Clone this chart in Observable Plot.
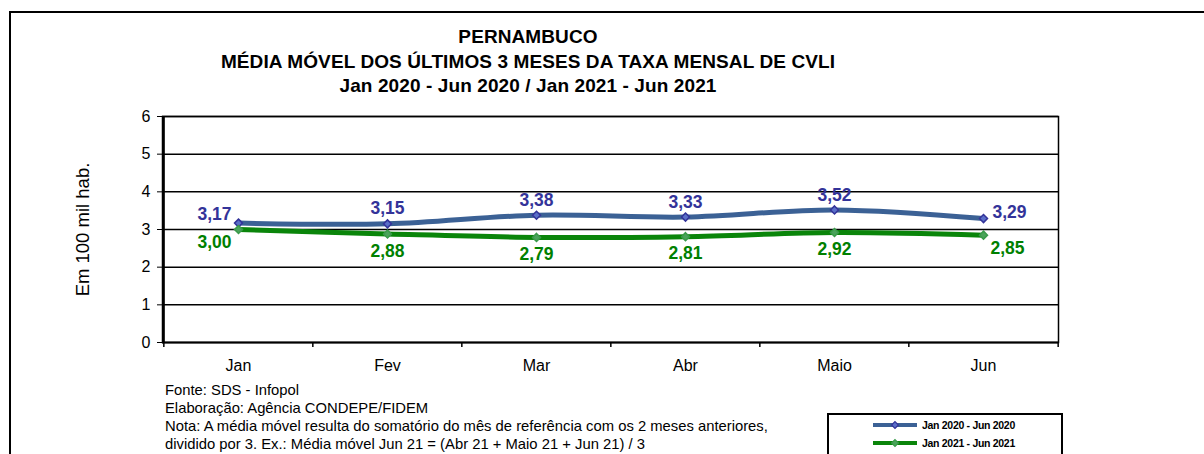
<!DOCTYPE html>
<html><head><meta charset="utf-8">
<script src="https://cdn.jsdelivr.net/npm/d3@7"></script>
<script src="https://cdn.jsdelivr.net/npm/@observablehq/plot@0.6"></script>
<style>
body{margin:0;background:#fff;font-family:"Liberation Sans",Arial,sans-serif;}
#wrap{position:relative;width:1204px;height:454px;overflow:hidden;background:#fff;}
#border{position:absolute;left:9px;top:11px;width:1300px;height:600px;border:2px solid #000;}
#title{position:absolute;left:0;top:25px;width:1056px;text-align:center;font-weight:bold;font-size:19px;line-height:24.5px;letter-spacing:0.1px;}
#chart{position:absolute;left:0;top:100px;}
#notes{position:absolute;left:165px;top:381px;font-size:14.8px;line-height:18px;color:#000;}
#legend{position:absolute;left:827px;top:413px;width:232px;height:60px;border:2px solid #000;background:#fff;}
</style></head><body>
<div id="wrap">
  <div id="border"></div>
  <div id="title"></div>
  <div id="chart"></div>
  <div id="notes"></div>
  <div id="legend"></div>
</div>
<script>
const titleLines = ["PERNAMBUCO", "MÉDIA MÓVEL DOS ÚLTIMOS 3 MESES DA TAXA MENSAL DE CVLI", "Jan 2020 - Jun 2020 / Jan 2021 - Jun 2021"];
const months = ["Jan", "Fev", "Mar", "Abr", "Maio", "Jun"];
const serie2020 = [3.17, 3.15, 3.38, 3.33, 3.52, 3.29];
const serie2021 = [3.00, 2.88, 2.79, 2.81, 2.92, 2.85];
const seriesNames = ["Jan 2020 -  Jun 2020", "Jan 2021 -  Jun 2021"];
const yTicks = [0, 1, 2, 3, 4, 5, 6];
const yLabel = "Em 100 mil hab.";
const notes = [
  "Fonte: SDS - Infopol",
  "Elaboração: Agência CONDEPE/FIDEM",
  "Nota: A média móvel resulta do somatório do mês de referência com os 2 meses anteriores,",
  "dividido por 3. Ex.: Média móvel Jun 21 = (Abr 21 + Maio 21 + Jun 21) / 3"
];

const lineColors = ["#3b6195", "#0a850a"];
const markerFill = ["#5a6fc8", "#4aa35a"];
const markerStroke = ["#333399", "#3a9a4a"];
const labelColors = ["#333399", "#008000"];

document.getElementById("title").innerHTML = titleLines.map(t => `<div>${t}</div>`).join("");
document.getElementById("notes").innerHTML = notes.map(t => `<div>${t}</div>`).join("");

const fmt = v => v.toFixed(2).replace(".", ",");
const series = [serie2020, serie2021];
const rows = series.flatMap((vals, s) => vals.map((v, i) => ({month: months[i], i, s, serie: seriesNames[s], value: v})));

const W = 1204, H = 280, mL = 162, mR = 146, mT = 16, mB = 38;
const step = (W - mL - mR) / months.length;

function labels(s, first, mid, last) {
  const d = rows.filter(r => r.s === s);
  const n = months.length - 1;
  const base = {x: "month", y: "value", text: r => fmt(r.value), fill: labelColors[s], fontWeight: "bold", fontSize: 17.5};
  return [
    Plot.text(d.filter(r => r.i === 0), {...base, dx: first[0], dy: first[1]}),
    Plot.text(d.filter(r => r.i > 0 && r.i < n), {...base, dx: mid[0], dy: mid[1]}),
    Plot.text(d.filter(r => r.i === n), {...base, dx: last[0], dy: last[1]})
  ];
}

const chart = Plot.plot({
  width: W, height: H,
  marginLeft: mL, marginRight: mR, marginTop: mT, marginBottom: mB,
  style: {fontFamily: "'Liberation Sans', Arial, sans-serif", background: "transparent", color: "#000"},
  x: {type: "point", domain: months, padding: 0.5},
  y: {domain: [0, 6]},
  marks: [
    Plot.ruleY(yTicks.filter(t => t > 0), {stroke: "#000", strokeWidth: 1.5}),
    Plot.frame({stroke: "#000", strokeWidth: 1.5}),
    Plot.ruleY([0], {stroke: "#000", strokeWidth: 2}),
    Plot.ruleX([0], {x: () => months[0], dx: -step / 2, y1: 0, y2: 6, stroke: "#000", strokeWidth: 2}),
    Plot.ruleX(months, {x: d => d, dx: -step / 2, y1: 0, y2: -0.13, stroke: "#000", strokeWidth: 1.5}),
    Plot.ruleX([months[months.length - 1]], {x: d => d, dx: step / 2, y1: 0, y2: -0.13, stroke: "#000", strokeWidth: 1.5}),
    Plot.axisY({ticks: yTicks, tickSize: 5, tickPadding: 7, fontSize: 16, label: null, tickFormat: d => d}),
    Plot.axisX({tickSize: 0, tickPadding: 17, fontSize: 16, label: null}),
    Plot.text([yLabel], {frameAnchor: "left", dx: -79, rotate: -90, textAnchor: "middle", fontSize: 18.5, fill: "#000"}),
    Plot.line(rows, {x: "month", y: "value", z: "serie", stroke: r => lineColors[r.s], strokeWidth: 5, curve: "catmull-rom"}),
    Plot.dot(rows.filter(r => r.s === 0), {x: "month", y: "value", symbol: "diamond2", r: 3.6, fill: markerFill[0], stroke: markerStroke[0], strokeWidth: 1.5}),
    Plot.dot(rows.filter(r => r.s === 1), {x: "month", y: "value", symbol: "diamond2", r: 3.6, fill: markerFill[1], stroke: markerStroke[1], strokeWidth: 1.5}),
    ...labels(0, [-24, -9], [0, -15], [26, -6]),
    ...labels(1, [-24, 13], [0, 17], [24, 13])
  ]
});
document.getElementById("chart").appendChild(chart);

// legend
const leg = d3.select("#legend").append("svg").attr("width", 232).attr("height", 60);
seriesNames.forEach((name, s) => {
  const y = 10 + s * 18;
  leg.append("line").attr("x1", 44).attr("x2", 88).attr("y1", y).attr("y2", y)
    .attr("stroke", lineColors[s]).attr("stroke-width", 4);
  leg.append("path").attr("d", d3.symbol(d3.symbolDiamond2, 30)()).attr("transform", `translate(66,${y})`)
    .attr("fill", markerFill[s]).attr("stroke", markerStroke[s]).attr("stroke-width", 1.2);
  leg.append("text").attr("x", 93).attr("y", y).attr("dy", "0.35em")
    .attr("font-family", "'Liberation Sans', Arial, sans-serif").attr("font-weight", "bold")
    .attr("font-size", 10.5).attr("letter-spacing", -0.3).text(name);
});
</script>
</body></html>
